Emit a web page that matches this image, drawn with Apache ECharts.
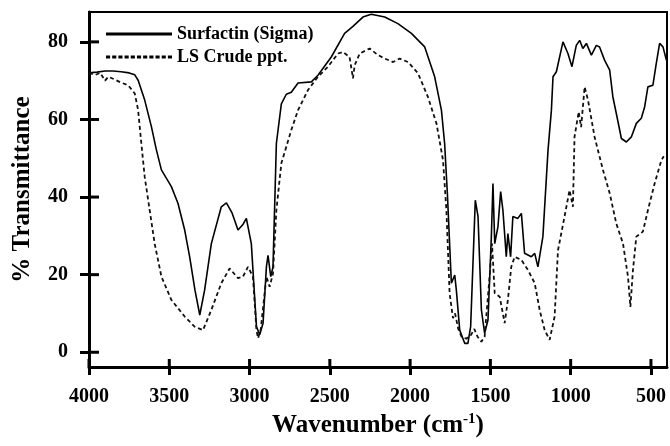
<!DOCTYPE html>
<html>
<head>
<meta charset="utf-8">
<script src="https://cdn.jsdelivr.net/npm/echarts@6/dist/echarts.min.js"></script>
<style>
html,body{margin:0;padding:0;background:#fff;}
#chart{width:670px;height:446px;}
</style>
</head>
<body>
<div id="chart"></div>
<script>
// Surfactin (Sigma) — [wavenumber, % transmittance]
var surfactin = [
[4000,72],[3950,72.2],[3900,72.5],[3850,72.5],[3800,72.3],[3750,72],[3715,71.5],[3694,70.1],[3653,65],[3611,58.1],[3580,52.1],[3549,47],[3487,42.7],[3446,38.4],[3404,31.5],[3373,24.6],[3340,16],[3310,9.6],[3280,16],[3238,28],[3176,37.5],[3144,38.5],[3110,36],[3072,31.5],[3040,33],[3020,34.5],[2989,28],[2957,6.6],[2937,4.5],[2916,7.5],[2895,22],[2885,25],[2868,19.5],[2854,22],[2833,53.8],[2802,64],[2771,66.5],[2740,67],[2698,69.4],[2615,69.7],[2574,71.4],[2491,76.1],[2408,82.2],[2356,84],[2294,86.4],[2242,87.1],[2158,86.4],[2076,84.7],[1992,82.2],[1909,78.7],[1847,71],[1805,62.4],[1785,53.8],[1768,41],[1754,28],[1743,17.8],[1722,19.9],[1712,16],[1691,5.7],[1660,2.3],[1640,2.3],[1623,6.6],[1594,39.2],[1577,35],[1556,10.9],[1536,4.9],[1515,8.3],[1494,29.8],[1484,43.5],[1473,28],[1453,32.3],[1436,41.4],[1422,36.6],[1401,24.6],[1391,30.6],[1374,24.6],[1360,35],[1329,34.5],[1307,35.8],[1287,25.5],[1245,24.6],[1224,25.5],[1204,22],[1173,29.8],[1141,52.1],[1120,62.4],[1110,71],[1089,72.3],[1048,80],[1017,77],[992,73.6],[965,79.1],[944,80.4],[924,78.3],[902,79.6],[871,76.6],[840,79.1],[820,78.7],[789,75.3],[757,72.7],[737,65.8],[716,61.6],[684,55.1],[653,54.2],[622,55.5],[591,59],[560,60.3],[539,63.3],[519,68.4],[488,68.8],[467,74.4],[446,79.6],[425,78.7],[404,75.3]
];
// LS Crude ppt. — [wavenumber, % transmittance]
var lsCrude = [
[4000,72],[3960,71.5],[3930,72],[3900,70],[3880,71],[3850,70.5],[3800,69.5],[3756,68.8],[3715,66.7],[3694,62.4],[3674,53.8],[3653,45.2],[3622,36.6],[3591,28],[3549,19.5],[3487,13.5],[3404,9.2],[3342,6.6],[3290,5.7],[3238,10.9],[3176,17.8],[3124,21.6],[3072,19.1],[3041,19.5],[3010,22],[2979,19.5],[2957,5.7],[2947,3.6],[2930,6],[2895,19.5],[2875,16.9],[2854,20.3],[2833,36.6],[2802,48.7],[2771,53],[2740,57.3],[2698,62.4],[2636,67.6],[2574,71],[2512,73.6],[2449,77],[2418,77.4],[2377,76.1],[2365,73],[2356,70.6],[2345,74],[2314,77],[2252,78.3],[2200,76.6],[2158,75.7],[2106,74.8],[2065,75.7],[2013,74.8],[1951,71.9],[1889,65.8],[1836,59],[1795,49.5],[1774,36.6],[1754,15.2],[1733,8.8],[1720,10],[1700,6],[1680,4],[1650,3.5],[1620,4.5],[1600,6],[1580,4],[1556,2.7],[1536,4],[1505,19.5],[1490,28],[1473,15.2],[1442,14.3],[1411,7.5],[1391,13.5],[1370,22],[1349,24.6],[1307,23.8],[1266,21.2],[1224,17.8],[1193,10.9],[1162,5.7],[1131,3.2],[1100,9.2],[1079,26.3],[1038,35],[1007,41.8],[986,37.5],[976,55.5],[950,62],[935,58],[913,68.4],[892,65],[851,55.5],[799,47],[757,41],[716,33.2],[674,28],[643,19.5],[628,11.7],[612,21.2],[591,29.8],[550,31.1],[519,36.6],[477,43.5],[435,49.5],[420,50.5]
];
var seriesNames = ['Surfactin (Sigma)', 'LS Crude ppt.'];
var xTicks = [4000, 3500, 3000, 2500, 2000, 1500, 1000, 500];
var yTicks = [0, 20, 40, 60, 80];
var xTitle = 'Wavenumber (cm{sup|-1})';
var yTitle = '% Transmittance';

var FONT = '"Liberation Serif", "Times New Roman", serif';
var X_MIN = 400, X_MAX = 4000, Y_MIN = -3.8, Y_MAX = 87.7;
var chart = echarts.init(document.getElementById('chart'), null, {renderer: 'canvas'});

// dashed legend icon path (short dashes)
var dashPath = 'path://';
for (var i = 0; i < 11; i++) {
  var x0 = i * 6;
  dashPath += 'M' + x0 + ',0L' + (x0 + 4) + ',0L' + (x0 + 4) + ',3L' + x0 + ',3Z';
}

function plainFmt(v) { return String(v); }

chart.setOption({
  animation: false,
  backgroundColor: '#fff',
  grid: {left: 89, right: 3, top: 12, bottom: 79, show: true, borderColor: '#000', borderWidth: 2, outerBoundsMode: 'none'},
  legend: {
    orient: 'vertical', left: 106, top: 25, padding: 0,
    itemWidth: 66, itemHeight: 18, itemGap: 5,
    textStyle: {color: '#000', fontFamily: FONT, fontWeight: 'bold', fontSize: 18},
    data: [
      {name: seriesNames[0], icon: 'path://M0,0L66,0L66,3L0,3Z', itemStyle: {color: '#000'}},
      {name: seriesNames[1], icon: dashPath, itemStyle: {color: '#000'}}
    ]
  },
  xAxis: {
    type: 'value', min: X_MIN, max: X_MAX, inverse: true, position: 'bottom',
    axisLine: {show: true, onZero: false, lineStyle: {color: '#000', width: 3}},
    axisTick: {show: true, inside: false, length: 8, customValues: xTicks, lineStyle: {color: '#000', width: 3}},
    axisLabel: {show: true, customValues: xTicks, formatter: plainFmt, margin: 20, color: '#000', fontFamily: FONT, fontWeight: 'bold', fontSize: 20},
    splitLine: {show: false},
    name: xTitle, nameLocation: 'middle', nameGap: 30,
    nameTextStyle: {color: '#000', fontFamily: FONT, fontWeight: 'bold', fontSize: 25,
      rich: {sup: {fontFamily: FONT, fontWeight: 'bold', fontSize: 15, color: '#000', verticalAlign: 'top', padding: [0, 0, 12, 0]}}}
  },
  yAxis: {
    type: 'value', min: Y_MIN, max: Y_MAX, position: 'left',
    axisLine: {show: true, onZero: false, lineStyle: {color: '#000', width: 3}},
    axisTick: {show: true, inside: false, length: 9, customValues: yTicks, lineStyle: {color: '#000', width: 3}},
    axisLabel: {show: true, customValues: yTicks, formatter: plainFmt, margin: 21, color: '#000', fontFamily: FONT, fontWeight: 'bold', fontSize: 20},
    splitLine: {show: false},
    name: yTitle, nameLocation: 'middle', nameGap: 54, nameRotate: 90,
    nameTextStyle: {color: '#000', fontFamily: FONT, fontWeight: 'bold', fontSize: 25}
  },
  series: [
    {name: seriesNames[0], type: 'line', data: surfactin, symbol: 'none', smooth: false,
     lineStyle: {color: '#000', width: 1.6}, itemStyle: {color: '#000'}},
    {name: seriesNames[1], type: 'line', data: lsCrude, symbol: 'none', smooth: false,
     lineStyle: {color: '#111', width: 1.8, type: [4, 3]}, itemStyle: {color: '#111'}}
  ]
});

// inside halves of the tick marks (ticks in the reference cross the axis lines),
// positioned through the chart's own scales
var tickGraphics = [];
xTicks.forEach(function (v) {
  var p = chart.convertToPixel({gridIndex: 0}, [v, Y_MIN]);
  tickGraphics.push({type: 'line', silent: true, z: 100,
    shape: {x1: p[0], y1: p[1], x2: p[0], y2: p[1] - 8},
    style: {stroke: '#000', lineWidth: 3}});
});
yTicks.forEach(function (v) {
  var p = chart.convertToPixel({gridIndex: 0}, [X_MAX, v]);
  tickGraphics.push({type: 'line', silent: true, z: 100,
    shape: {x1: p[0], y1: p[1], x2: p[0] + 10, y2: p[1]},
    style: {stroke: '#000', lineWidth: 3}});
});
chart.setOption({graphic: {elements: tickGraphics}});
</script>
</body>
</html>
